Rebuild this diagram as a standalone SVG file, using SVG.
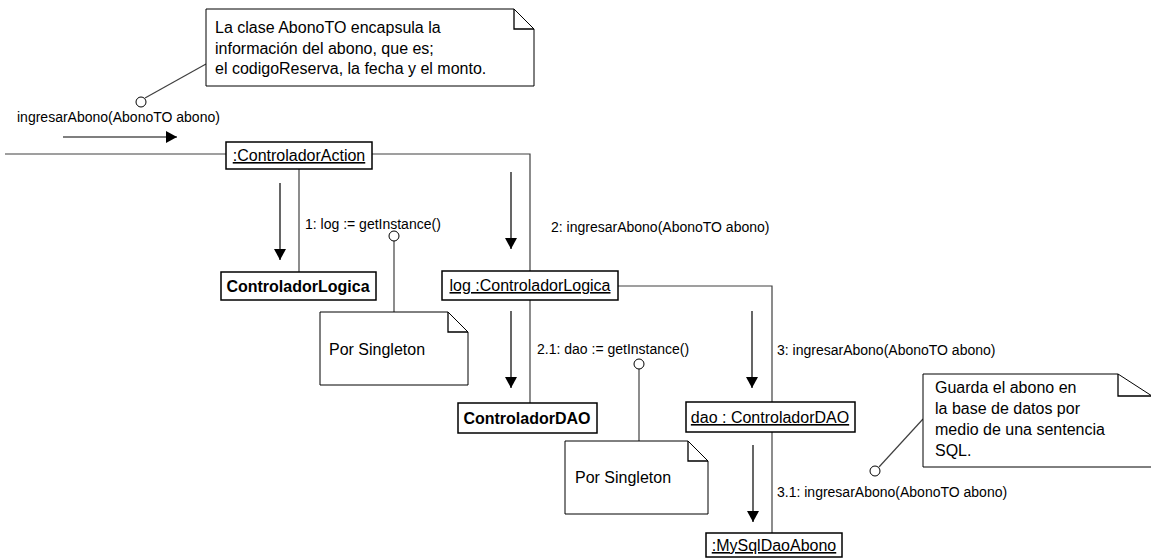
<svg xmlns="http://www.w3.org/2000/svg" width="1151" height="558" viewBox="0 0 1151 558">
  <style>
    .obj { fill: #ffffff; stroke: #000000; stroke-width: 1.5; }
    .note { fill: #ffffff; stroke: #000000; stroke-width: 1; }
    .fold { fill: none; stroke: #000000; stroke-width: 1.3; }
    .link { fill: none; stroke: #404040; stroke-width: 1.2; }
    .msg { fill: none; stroke: #000000; stroke-width: 1.2; }
    .anchor { fill: #ffffff; stroke: #000000; stroke-width: 1; }
    .name { font-family: "Liberation Sans", Arial, sans-serif; font-size: 16px; fill: #000000; text-anchor: middle; }
    .inst { text-decoration: underline; }
    .cls { font-weight: bold; }
    .ntext { font-family: "Liberation Sans", Arial, sans-serif; font-size: 16px; fill: #000000; }
    .label { font-family: "Liberation Sans", Arial, sans-serif; font-size: 14px; fill: #000000; }
  </style>
  <defs>
    <marker id="head" markerUnits="userSpaceOnUse" markerWidth="12" markerHeight="12" viewBox="0 0 12 12" refX="11" refY="6" orient="auto">
      <path d="M0,0 L11,6 L0,12 Z" fill="#000000"/>
    </marker>
  </defs>

  <rect width="1151" height="558" fill="#ffffff"/>

  <!-- links between objects and message arrows -->
  <g id="connectors">
    <path class="link" d="M5,154 H226"/>
    <path class="link" d="M372,154 H530 V271"/>
    <path class="link" d="M299,169 V272"/>
    <path class="link" d="M530,300 V403"/>
    <path class="link" d="M618,286 H772 V402"/>
    <path class="link" d="M772,432 V533"/>

    <line class="msg" x1="63" y1="137" x2="177" y2="137" marker-end="url(#head)"/>
    <line class="msg" x1="280" y1="183" x2="280" y2="260" marker-end="url(#head)"/>
    <line class="msg" x1="511" y1="172" x2="511" y2="249" marker-end="url(#head)"/>
    <line class="msg" x1="511" y1="311" x2="511" y2="388" marker-end="url(#head)"/>
    <line class="msg" x1="752" y1="311" x2="752" y2="388" marker-end="url(#head)"/>
    <line class="msg" x1="753" y1="445" x2="753" y2="522" marker-end="url(#head)"/>

    <text class="label" x="17" y="122">ingresarAbono(AbonoTO abono)</text>
    <text class="label" x="305" y="229">1: log := getInstance()</text>
    <text class="label" x="551" y="232">2: ingresarAbono(AbonoTO abono)</text>
    <text class="label" x="537" y="354">2.1: dao := getInstance()</text>
    <text class="label" x="777" y="355">3: ingresarAbono(AbonoTO abono)</text>
    <text class="label" x="777" y="497">3.1: ingresarAbono(AbonoTO abono)</text>

    <!-- note anchors -->
    <line class="link" x1="145" y1="98" x2="206" y2="64"/>
    <circle class="anchor" cx="141" cy="102" r="5"/>
    <line class="link" x1="394" y1="241" x2="394" y2="312"/>
    <circle class="anchor" cx="394" cy="236" r="5"/>
    <line class="link" x1="639" y1="369" x2="639" y2="441"/>
    <circle class="anchor" cx="639" cy="364" r="5"/>
    <line class="link" x1="879" y1="467" x2="923" y2="419"/>
    <circle class="anchor" cx="875" cy="471" r="5"/>
  </g>

  <g id="controladorAction">
    <rect class="obj" x="226" y="142" width="146" height="27"/>
    <text class="name inst" x="299" y="161">:ControladorAction</text>
  </g>

  <g id="controladorLogicaClass">
    <rect class="obj" x="221" y="272" width="155" height="28"/>
    <text class="name cls" x="298" y="292">ControladorLogica</text>
  </g>

  <g id="controladorLogica">
    <rect class="obj" x="442" y="271" width="176" height="29"/>
    <text class="name inst" x="530" y="291">log :ControladorLogica</text>
  </g>

  <g id="controladorDAOClass">
    <rect class="obj" x="458" y="403" width="139" height="30"/>
    <text class="name cls" x="527" y="424">ControladorDAO</text>
  </g>

  <g id="controladorDAO">
    <rect class="obj" x="686" y="402" width="169" height="30"/>
    <text class="name inst" x="770" y="423">dao : ControladorDAO</text>
  </g>

  <g id="mySqlDaoAbono">
    <rect class="obj" x="706" y="533" width="136" height="24"/>
    <text class="name inst" x="774" y="551">:MySqlDaoAbono</text>
  </g>

  <g id="noteAbonoTO">
    <path class="note" d="M206,9 H514 L534,29 V86 H206 Z"/>
    <path class="fold" d="M514,9 V29 H534"/>
    <text class="ntext" x="215" y="33">La clase AbonoTO encapsula la</text>
    <text class="ntext" x="215" y="54">información del abono, que es;</text>
    <text class="ntext" x="215" y="74">el codigoReserva, la fecha y el monto.</text>
  </g>

  <g id="noteSingletonLogica">
    <path class="note" d="M320,312 H448 L468,332 V385 H320 Z"/>
    <path class="fold" d="M448,312 V332 H468"/>
    <text class="ntext" x="329" y="355">Por Singleton</text>
  </g>

  <g id="noteSingletonDAO">
    <path class="note" d="M565,441 H688 L708,461 V514 H565 Z"/>
    <path class="fold" d="M688,441 V461 H708"/>
    <text class="ntext" x="575" y="483">Por Singleton</text>
  </g>

  <g id="noteGuarda">
    <path class="note" d="M923,374 H1118 L1152,396 V467 H923 Z"/>
    <path class="fold" d="M1118,374 V396 H1152"/>
    <text class="ntext" x="935" y="393">Guarda el abono en</text>
    <text class="ntext" x="935" y="414">la base de datos por</text>
    <text class="ntext" x="935" y="435">medio de una sentencia</text>
    <text class="ntext" x="935" y="456">SQL.</text>
  </g>
</svg>
